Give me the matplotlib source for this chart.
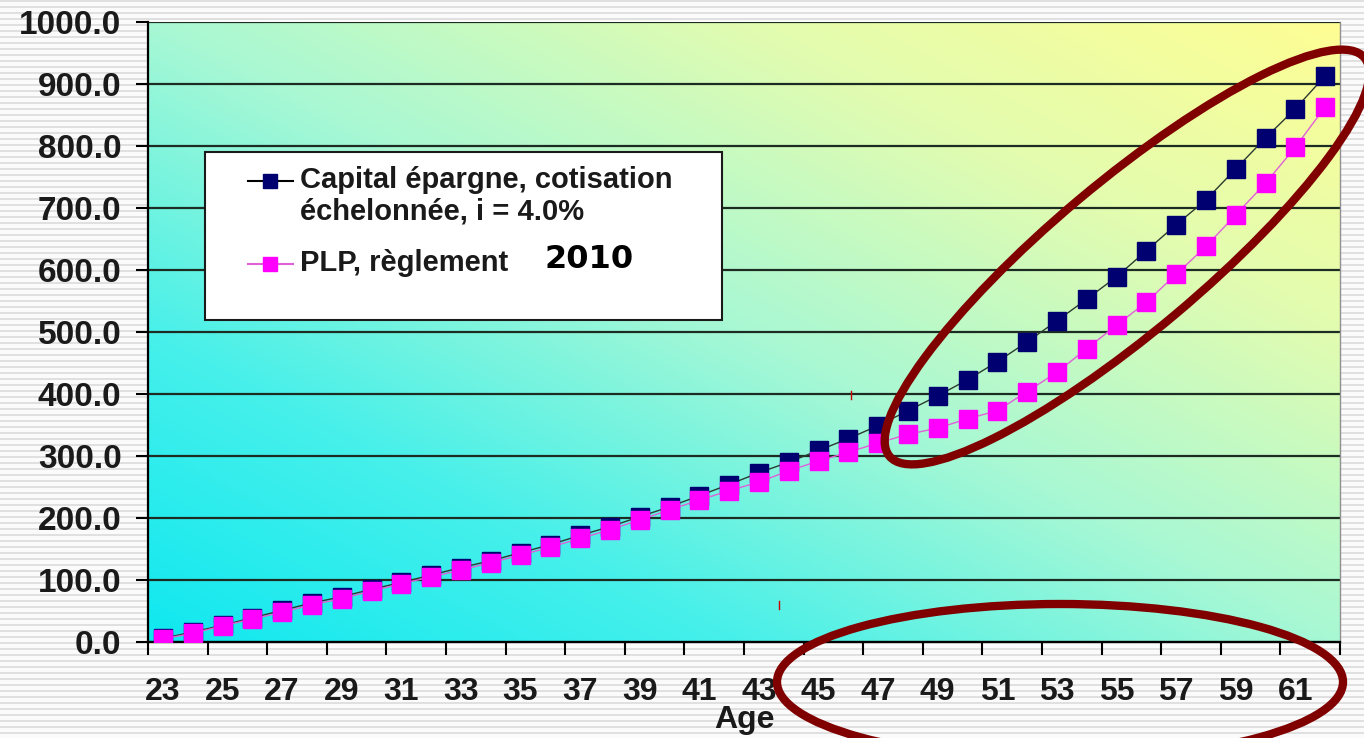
import numpy as np
import matplotlib
matplotlib.use("Agg")
import matplotlib.pyplot as plt
from matplotlib.colors import LinearSegmentedColormap, ListedColormap
from matplotlib.patches import Ellipse, Rectangle

# ---------------- data ----------------
ages = list(range(23, 63))
capital = [6, 16, 27, 39, 51, 63, 73, 85, 96, 108, 120, 131, 144, 157, 172, 186,
           202, 218, 236, 254, 273, 290, 309, 328, 349, 373, 397, 423, 452, 484,
           518, 553, 589, 631, 673, 713, 763, 813, 860, 913]
plp = [5, 14, 26, 37, 48, 60, 70, 82, 94, 105, 116, 128, 140, 153, 167, 181,
       197, 213, 229, 244, 258, 276, 292, 306, 321, 335, 345, 360, 373, 404,
       435, 473, 511, 548, 593, 638, 689, 740, 798, 863]
yticks = [0, 100, 200, 300, 400, 500, 600, 700, 800, 900, 1000]
label_capital = "Capital épargne, cotisation\néchelonnée, i = 4.0%"
label_plp = "PLP, règlement"
year_text = "2010"
xlabel = "Age"

NAVY = "#000070"
PINK = "#ff00ff"
TXT = "#1a1a1a"

W, H = 1364, 738
fig = plt.figure(figsize=(W / 100, H / 100), dpi=100)

# striped background
bg = fig.add_axes([0, 0, 1, 1], zorder=-2)
rows = np.array([(1 if (r % 6) < 2 else 0) for r in range(H)]).reshape(-1, 1)
bg.imshow(rows, cmap=ListedColormap(["#fbfbfb", "#e0e0e0"]), aspect="auto",
          interpolation="nearest", extent=(0, W, H, 0))
bg.set_axis_off()

# main axes
L, R, T, B = 148, 1340, 22, 642
ax = fig.add_axes([L / W, 1 - B / H, (R - L) / W, (B - T) / H], zorder=1)
x = np.arange(len(ages))

# gradient background
cmap = LinearSegmentedColormap.from_list(
    "g", [(0.0, "#10e8f0"), (0.25, "#48f0ea"), (0.5, "#a8f8d4"),
          (0.75, "#e2fcb0"), (1.0, "#fefe94")])
n = 300
u = np.linspace(0, 1, n)
U, V = np.meshgrid(u, u)
ax.imshow((U + V) / 2, cmap=cmap, origin="lower", aspect="auto",
          extent=(-0.5, len(ages) - 0.5, 0, 1000), zorder=0, interpolation="bilinear")

ax.set_xlim(-0.5, len(ages) - 0.5)
ax.set_ylim(0, 1000)

ax.plot(x, capital, color="#2a3a30", lw=1.0, marker="s", markersize=13,
        markerfacecolor=NAVY, markeredgecolor=NAVY, zorder=3)
ax.plot(x, plp, color="#e060d8", lw=1.0, marker="s", markersize=12.5,
        markerfacecolor=PINK, markeredgecolor=PINK, zorder=4)

# grid
ax.set_yticks(yticks)
ax.set_yticklabels([f"{v:.1f}" for v in yticks])
ax.yaxis.grid(True, color="#1c2c22", lw=1.6)
ax.set_axisbelow(True)

# x ticks: labels at every other category, tick marks at boundaries
ax.set_xticks(x[::2])
ax.set_xticklabels([str(a) for a in ages[::2]])
ax.set_xticks(np.arange(-0.5, len(ages), 2), minor=True)
ax.tick_params(axis="x", which="major", length=0, pad=25)
ax.tick_params(axis="x", which="minor", length=9, width=1.5, color="black", direction="out")
ax.tick_params(axis="y", length=9, width=1.5, color="black", direction="out", pad=10)

for lab in ax.get_xticklabels():
    lab.set_fontfamily("Liberation Sans")
    lab.set_fontweight("bold")
    lab.set_fontsize(23)
    lab.set_color(TXT)
for lab in ax.get_yticklabels():
    lab.set_fontfamily("Liberation Sans")
    lab.set_fontweight("bold")
    lab.set_fontsize(24)
    lab.set_color(TXT)

ax.set_xlabel(xlabel, fontfamily="Liberation Sans", fontweight="bold",
              fontsize=23, color=TXT, labelpad=-1)

for s in ["left", "bottom"]:
    ax.spines[s].set_color("black")
    ax.spines[s].set_linewidth(1.6)
ax.spines["top"].set_visible(False)
ax.spines["right"].set_color("#909090")
ax.spines["right"].set_linewidth(1.0)

# overlay for legend box and annotations (pixel coordinates)
ov = fig.add_axes([0, 0, 1, 1], zorder=10)
ov.set_xlim(0, W)
ov.set_ylim(H, 0)
ov.set_axis_off()
ov.patch.set_alpha(0)

# legend
ov.add_patch(Rectangle((205, 152), 517, 168, facecolor="white",
                       edgecolor=TXT, lw=1.5, zorder=1))
lfont = dict(fontfamily="Liberation Sans", fontweight="bold", fontsize=21, color=TXT)
entries = [(label_capital, "black", NAVY, 181), (label_plp, "#e060d8", PINK, 264)]
for text, lc, mc, yy in entries:
    ov.plot([248, 293], [yy, yy], color=lc, lw=1.5, zorder=2)
    ov.plot([270], [yy], marker="s", markersize=10, color=mc, zorder=3)
    for k, line in enumerate(text.split("\n")):
        ov.text(300, yy - 1 + 32 * k, line, ha="left", va="center", zorder=3, **lfont)

ov.text(589, 259, year_text, ha="center", va="center", fontfamily="DejaVu Sans",
        fontweight="bold", fontsize=23, color="black", zorder=3)

red = "#800000"
ov.add_patch(Ellipse((1127, 257), 620, 150, angle=-40, fill=False,
                     edgecolor=red, lw=6, zorder=4))
ov.add_patch(Ellipse((1060, 682), 566, 156, angle=0, fill=False,
                     edgecolor=red, lw=6, zorder=4))
ov.plot([851, 851], [391, 399], color="#cc0000", lw=1, zorder=4)
ov.plot([779, 779], [601, 609], color="#cc0000", lw=1, zorder=4)

fig.savefig("out.png", dpi=100)
